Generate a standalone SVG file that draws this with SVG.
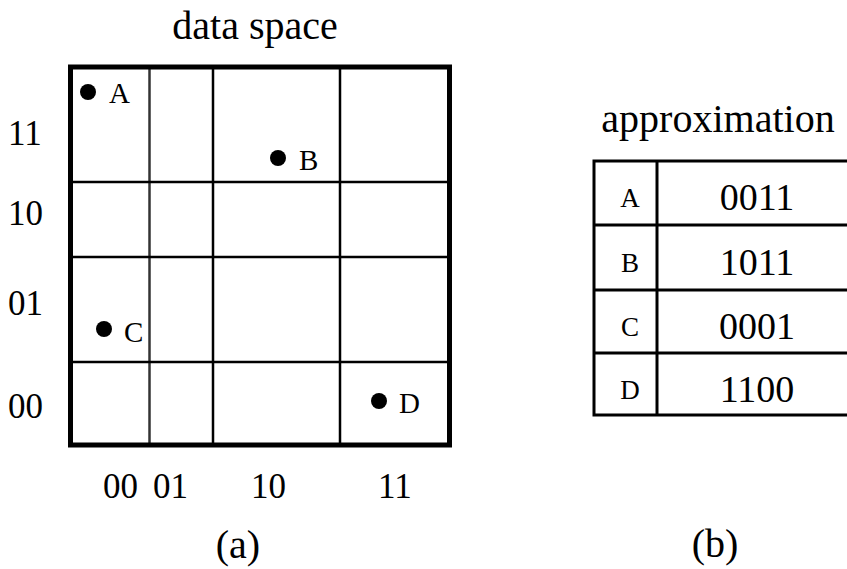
<svg xmlns="http://www.w3.org/2000/svg" width="847" height="569" viewBox="0 0 847 569">
<style>
text{font-family:"Liberation Serif","Times New Roman",serif;fill:#000}
.t{font-size:40px;text-anchor:middle}
.ax{font-size:35px}
.pl{font-size:29px}
.tl{font-size:27px;text-anchor:middle}
.td{font-size:38px;text-anchor:middle}
.cap{font-size:40px;text-anchor:middle}
.in{stroke:#000;stroke-width:2.5;fill:none}
.tb{stroke:#000;stroke-width:3;fill:none}
</style>
<rect width="847" height="569" fill="#fff"/>
<g id="titles">
<text class="t" x="255" y="39">data space</text>
<text class="t" x="718" y="132">approximation</text>
<text class="cap" x="238" y="558">(a)</text>
<text class="cap" x="715" y="557">(b)</text>
</g>
<g id="axis-y">
<text class="ax" x="8" y="145">11</text>
<text class="ax" x="8" y="225">10</text>
<text class="ax" x="8" y="315">01</text>
<text class="ax" x="8" y="418">00</text>
</g>
<g id="axis-x">
<text class="ax" x="103" y="498">00</text>
<text class="ax" x="153" y="498">01</text>
<text class="ax" x="251" y="498">10</text>
<text class="ax" x="378" y="498">11</text>
</g>
<g id="grid">
<line class="in" x1="149.5" y1="67" x2="149.5" y2="445" style="stroke:#333"/>
<line class="in" x1="213" y1="67" x2="213" y2="445"/>
<line class="in" x1="340" y1="67" x2="340" y2="445"/>
<line class="in" x1="70" y1="182" x2="450" y2="182"/>
<line class="in" x1="70" y1="257" x2="450" y2="257"/>
<line class="in" x1="70" y1="362" x2="450" y2="362"/>
<rect x="70.5" y="67" width="379" height="378" fill="none" stroke="#000" stroke-width="5"/>
</g>
<g id="point-A"><circle cx="88" cy="92" r="8"/><text class="pl" x="109" y="103">A</text></g>
<g id="point-B"><circle cx="278" cy="158" r="8"/><text class="pl" x="299" y="170">B</text></g>
<g id="point-C"><circle cx="104" cy="329" r="8"/><text class="pl" x="124" y="342">C</text></g>
<g id="point-D"><circle cx="379" cy="401" r="8"/><text class="pl" x="399" y="413">D</text></g>
<g id="table">
<polyline class="tb" points="849,161 594,161 594,415 849,415"/>
<line class="tb" x1="657" y1="161" x2="657" y2="415"/>
<line class="tb" x1="594" y1="225" x2="849" y2="225"/>
<line class="tb" x1="594" y1="290" x2="849" y2="290"/>
<line class="tb" x1="594" y1="353" x2="849" y2="353"/>
</g>
<g id="row-A"><text class="tl" x="630" y="207">A</text><text class="td" x="757" y="210">0011</text></g>
<g id="row-B"><text class="tl" x="630" y="272">B</text><text class="td" x="757" y="275">1011</text></g>
<g id="row-C"><text class="tl" x="630" y="336">C</text><text class="td" x="757" y="339">0001</text></g>
<g id="row-D"><text class="tl" x="630" y="399">D</text><text class="td" x="757" y="402">1100</text></g>
</svg>
